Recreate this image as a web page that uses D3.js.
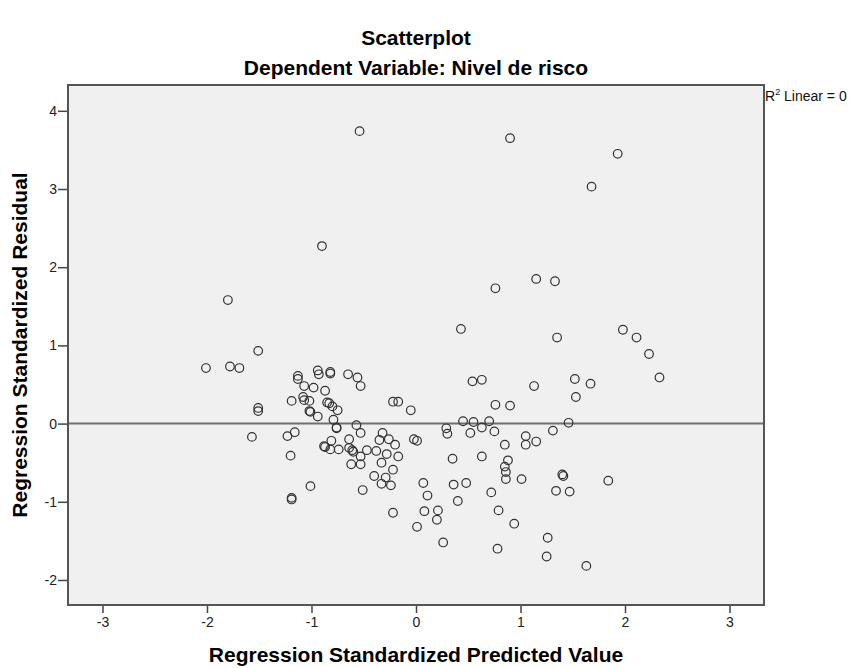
<!DOCTYPE html>
<html>
<head>
<meta charset="utf-8">
<script src="https://d3js.org/d3.v7.min.js"></script>
<style>
  body { margin: 0; background: #fff; }
  text { font-family: Arial, "Liberation Sans", sans-serif; }
</style>
</head>
<body>
<div id="chart"></div>
<script>
// predicted value (x) and residual (y)
var predicted = [-0.54, -0.90, 0.90, 1.93, 1.68, 1.15, 1.33, 0.76, -1.80, -1.51,
  -2.01, -1.78, -1.69, -1.13, -1.13, -1.19, -1.51, -1.51, -1.57, -1.23,
  -1.16, -1.20, -1.19, -1.19, -1.01, -0.88, -0.87, -0.82, -0.74, -0.64,
  -0.61, -0.62, -0.53, -0.53, -0.47, -0.38, -0.28, -0.17, -0.20, -0.33,
  -0.22, -0.40, -0.29, -0.33, -0.24, -0.51, -0.22, 0.01, -1.07, -0.98,
  -0.94, -0.93, -0.82, -0.82, -0.65, -0.56, -0.53, -0.87, -1.08, -1.07,
  -1.02, -1.02, -1.01, -0.94, -0.85, -0.83, -0.80, -0.75, -0.79, -0.76,
  -0.76, -0.57, -0.53, -0.81, -0.64, -0.60, -0.35, -0.32, -0.26, -0.22,
  -0.17, -0.05, -0.02, 0.01, 0.54, 0.63, 1.13, 0.76, 0.90, 0.45,
  0.55, 0.70, 0.63, 0.52, 0.75, 0.29, 0.30, 1.31, 1.05, 1.05,
  1.15, 0.85, 0.35, 0.63, 0.88, 0.85, 0.86, 0.86, 1.01, 1.40,
  1.41, 1.34, 1.47, 1.84, 0.07, 0.36, 0.48, 0.11, 0.40, 0.72,
  0.08, 0.21, 0.20, 0.79, 0.94, 0.26, 0.78, 1.26, 1.25, 1.63,
  1.35, 1.98, 2.11, 2.23, 2.33, 1.52, 1.67, 1.53, 1.46, 0.43];
var residual = [3.74, 2.27, 3.65, 3.45, 3.03, 1.85, 1.82, 1.73, 1.58, 0.93,
  0.71, 0.73, 0.71, 0.61, 0.57, 0.29, 0.20, 0.16, -0.17, -0.16,
  -0.11, -0.41, -0.95, -0.97, -0.80, -0.29, -0.30, -0.33, -0.33, -0.31,
  -0.34, -0.52, -0.52, -0.42, -0.34, -0.35, -0.39, -0.42, -0.27, -0.50,
  -0.59, -0.67, -0.69, -0.77, -0.79, -0.85, -1.14, -1.32, 0.48, 0.46,
  0.68, 0.63, 0.66, 0.64, 0.63, 0.59, 0.48, 0.42, 0.34, 0.30,
  0.29, 0.16, 0.15, 0.09, 0.27, 0.26, 0.22, 0.17, 0.05, -0.05,
  -0.06, -0.02, -0.12, -0.22, -0.20, -0.36, -0.21, -0.12, -0.20, 0.28,
  0.28, 0.17, -0.20, -0.22, 0.54, 0.56, 0.48, 0.24, 0.23, 0.03,
  0.02, 0.03, -0.05, -0.12, -0.10, -0.06, -0.13, -0.09, -0.16, -0.27,
  -0.23, -0.27, -0.45, -0.42, -0.47, -0.55, -0.62, -0.71, -0.71, -0.65,
  -0.67, -0.86, -0.87, -0.73, -0.76, -0.78, -0.76, -0.92, -0.99, -0.88,
  -1.12, -1.11, -1.23, -1.11, -1.28, -1.52, -1.60, -1.46, -1.70, -1.82,
  1.10, 1.20, 1.10, 0.89, 0.59, 0.57, 0.51, 0.34, 0.01, 1.21];
var xTicks = [-3, -2, -1, 0, 1, 2, 3];
var yTicks = [-2, -1, 0, 1, 2, 3, 4];

var data = predicted.map(function (p, i) { return { x: p, y: residual[i] }; });

var W = 857, H = 668;
var margin = { top: 85, right: 93, bottom: 63, left: 68 },
width = W - margin.left - margin.right,
height = H - margin.top - margin.bottom;

var svg = d3
.select("#chart")
.append("svg")
.attr("width", W)
.attr("height", H);

var g = svg.append("g")
.attr("transform", "translate(" + margin.left + "," + margin.top + ")");

var x = d3.scaleLinear().domain([-3.33, 3.33]).range([0, width]);
var y = d3.scaleLinear().domain([-2.32, 4.33]).range([height, 0]);

// plot area
g.append("rect")
.attr("width", width)
.attr("height", height)
.attr("fill", "#f0f0f0");

// axes (SPSS style: plain hyphen minus, integers)
var fmt = function (d) { return String(d); };
var xAxis = g.append("g")
.attr("transform", "translate(0," + height + ")")
.call(d3.axisBottom(x).tickValues(xTicks).tickFormat(fmt).tickSize(8).tickPadding(4));
var yAxis = g.append("g")
.call(d3.axisLeft(y).tickValues(yTicks).tickFormat(fmt).tickSize(10).tickPadding(1));

[xAxis, yAxis].forEach(function (a) {
  a.select(".domain").remove();
  a.selectAll("line").attr("stroke", "#444").attr("stroke-width", 1.5);
  a.selectAll("text")
  .attr("fill", "#222")
  .style("font-size", "14px")
  .style("font-family", "Arial, 'Liberation Sans', sans-serif");
});

// zero reference line
g.append("line")
.attr("x1", 0)
.attr("x2", width)
.attr("y1", y(0))
.attr("y2", y(0))
.attr("stroke", "#6e6e6e")
.attr("stroke-width", 2);

// dots
g.append("g")
.selectAll("circle")
.data(data)
.enter()
.append("circle")
.attr("cx", function (d) { return x(d.x); })
.attr("cy", function (d) { return y(d.y); })
.attr("r", 4.3)
.attr("fill", "none")
.attr("stroke", "#333")
.attr("stroke-width", 1.2);

// frame
g.append("rect")
.attr("width", width)
.attr("height", height)
.attr("fill", "none")
.attr("stroke", "#555")
.attr("stroke-width", 2);

// titles
svg.append("text")
.attr("x", margin.left + width / 2)
.attr("y", 45)
.attr("text-anchor", "middle")
.style("font-size", "21px")
.style("font-weight", "bold")
.text("Scatterplot");

svg.append("text")
.attr("x", margin.left + width / 2)
.attr("y", 75)
.attr("text-anchor", "middle")
.style("font-size", "21px")
.style("font-weight", "bold")
.text("Dependent Variable: Nivel de risco");

svg.append("text")
.attr("x", margin.left + width / 2)
.attr("y", 662)
.attr("text-anchor", "middle")
.style("font-size", "21px")
.style("font-weight", "bold")
.text("Regression Standardized Predicted Value");

svg.append("text")
.attr("transform", "translate(27," + (margin.top + height / 2) + ")rotate(-90)")
.attr("text-anchor", "middle")
.style("font-size", "21px")
.style("font-weight", "bold")
.text("Regression Standardized Residual");

// fit line label
var r2 = svg.append("text")
.attr("x", margin.left + width + 1)
.attr("y", 101)
.style("font-size", "14px")
.attr("fill", "#111");
r2.append("tspan").text("R");
r2.append("tspan").attr("dy", -6).style("font-size", "9px").text("2");
r2.append("tspan").attr("dy", 6).text(" Linear = 0");
</script>
</body>
</html>
